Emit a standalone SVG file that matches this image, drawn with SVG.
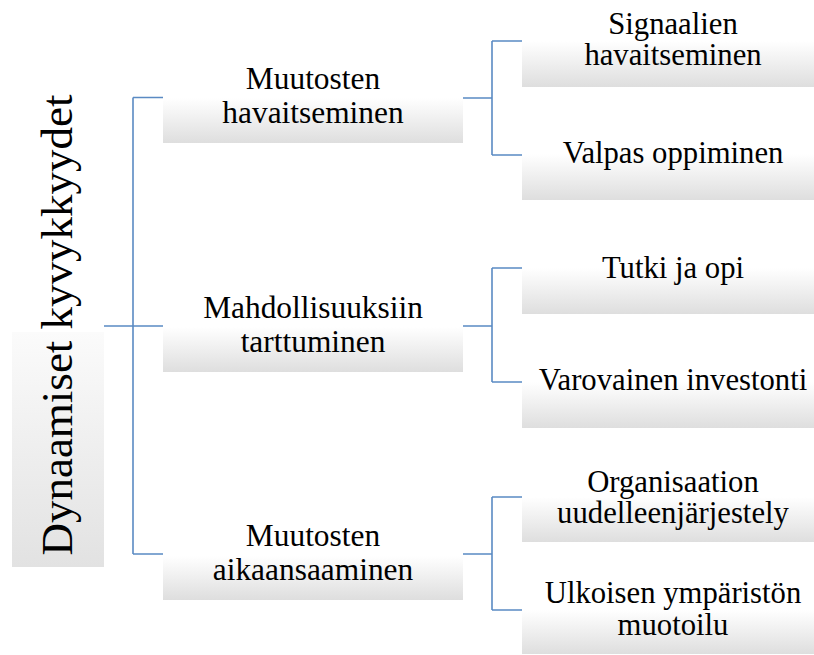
<svg xmlns="http://www.w3.org/2000/svg" width="814" height="655" viewBox="0 0 814 655" font-family="Liberation Serif, Times New Roman, serif">
<defs>
<linearGradient id="g" x1="0" y1="0" x2="0" y2="1">
<stop offset="0" stop-color="#ffffff"/>
<stop offset="1" stop-color="#dedede"/>
</linearGradient>
<linearGradient id="gr" x1="0" y1="0" x2="0" y2="1">
<stop offset="0" stop-color="#fbfbfb"/>
<stop offset="1" stop-color="#e2e2e2"/>
</linearGradient>
</defs>
<style>
.box{fill:url(#g);}
.t{font-family:'Liberation Serif','Times New Roman',Tinos,'DejaVu Serif',serif;font-size:31.4px;fill:#000;text-anchor:middle;}
.t2{font-family:'Liberation Serif','Times New Roman',Tinos,'DejaVu Serif',serif;font-size:30.7px;fill:#000;text-anchor:middle;}
.c{fill:none;stroke:#5a8ac3;stroke-width:1.6;}
</style>
<rect width="814" height="655" fill="#fff"/>
<g id="connectors">
<path class="c" d="M104 326 H133 M133 97.5 V554 M133 97.5 H163 M133 326 H163 M133 554 H163" stroke="#4d7db5"/>
<path class="c" d="M463 98 H492 M492 41 V155 M492 41 H522 M492 155 H522"/>
<path class="c" d="M463 326 H492 M492 268 V382 M492 268 H522 M492 382 H522"/>
<path class="c" d="M463 554 H492 M492 497 V610 M492 497 H522 M492 610 H522"/>
</g>
<g id="root">
<rect x="12" y="332" width="92" height="235" fill="url(#gr)"/>
<text class="t" transform="translate(72,325) rotate(-90)" x="0" y="0" style="font-size:45px">Dynaamiset kyvykkyydet</text>
</g>
<g id="n1">
<rect class="box" x="163" y="98" width="300" height="45"/>
<text class="t" x="313" y="89">Muutosten</text>
<text class="t" x="313" y="123">havaitseminen</text>
</g>
<g id="n2">
<rect class="box" x="163" y="327" width="300" height="45"/>
<text class="t" x="313" y="318">Mahdollisuuksiin</text>
<text class="t" x="313" y="352">tarttuminen</text>
</g>
<g id="n3">
<rect class="box" x="163" y="556" width="300" height="44"/>
<text class="t" x="313" y="546">Muutosten</text>
<text class="t" x="313" y="580">aikaansaaminen</text>
</g>
<g id="n11">
<rect class="box" x="522" y="41" width="292" height="46"/>
<text class="t2" x="673" y="34">Signaalien</text>
<text class="t2" x="673" y="65">havaitseminen</text>
</g>
<g id="n12">
<rect class="box" x="522" y="154" width="292" height="46"/>
<text class="t2" x="673" y="163">Valpas oppiminen</text>
</g>
<g id="n21">
<rect class="box" x="522" y="268" width="292" height="46"/>
<text class="t2" x="673" y="278">Tutki ja opi</text>
</g>
<g id="n22">
<rect class="box" x="522" y="382" width="292" height="46"/>
<text class="t2" x="673" y="390">Varovainen investonti</text>
</g>
<g id="n31">
<rect class="box" x="522" y="497" width="292" height="45"/>
<text class="t2" x="673" y="492">Organisaation</text>
<text class="t2" x="673" y="523">uudelleenjärjestely</text>
</g>
<g id="n32">
<rect class="box" x="522" y="610" width="292" height="44"/>
<text class="t2" x="673" y="603">Ulkoisen ympäristön</text>
<text class="t2" x="673" y="635">muotoilu</text>
</g>
</svg>
